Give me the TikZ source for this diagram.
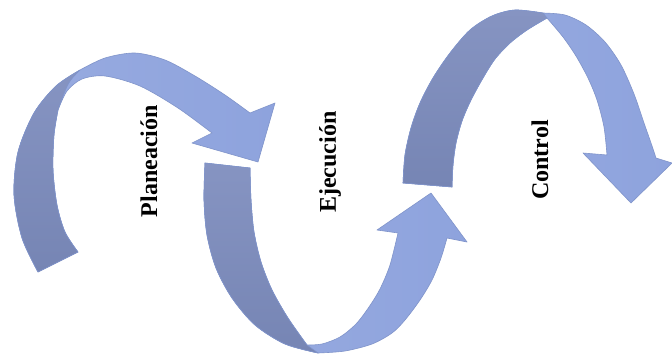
\documentclass[tikz,border=0pt]{standalone}
\usepackage{fontspec}
\setmainfont{Liberation Serif}
\begin{document}
\begin{tikzpicture}[x=1pt,y=-1pt,
  lightband/.style={shade, left color=lbA, right color=lbB, draw=edgeblue, line width=0.6pt, line join=round},
  darkband/.style={shade, top color=dbA, bottom color=dbB, draw=edgeblue, line width=0.6pt, line join=round},
  phase/.style={rotate=90, font=\bfseries\fontsize{24}{28}\selectfont, text=black, inner sep=0pt}]
\definecolor{lbA}{RGB}{152,171,224}
\definecolor{lbB}{RGB}{142,163,221}
\definecolor{dbA}{RGB}{134,148,194}
\definecolor{dbB}{RGB}{118,133,180}
\definecolor{edgeblue}{RGB}{128,148,202}
\useasboundingbox (0,0) rectangle (672,354);
\fill[white] (0,0) rectangle (672,354);

% --- first ribbon arrow (left) ---
\path[lightband]
  plot[smooth] coordinates {(38,272) (22,238) (14,195) (18,152) (34,113) (56,86) (80,70)}
  -- plot[smooth] coordinates {(80,70) (105,58) (135,53) (165,60) (195,76) (225,95) (250,113)}
  -- (275,103) -- (258,162) -- (192,143) -- (212,133)
  -- plot[smooth] coordinates {(212,133) (178,108) (140,86) (105,76) (82,79) (67,91) (58,110)}
  -- plot[smooth] coordinates {(58,110) (54,135) (53,170) (57,205) (65,232) (78,252)}
  -- cycle;
\path[darkband]
  plot[smooth] coordinates {(38,272) (22,238) (14,195) (18,152) (34,113) (56,86) (80,70)}
  .. controls (68,82) .. (58,110)
  -- plot[smooth] coordinates {(58,110) (54,135) (53,170) (57,205) (65,232) (78,252)}
  -- cycle;

% --- second ribbon arrow (middle) ---
\path[lightband]
  plot[smooth] coordinates {(205,163) (204,200) (207,235) (216,268) (232,298) (255,325) (285,344) (318,353)}
  -- plot[smooth] coordinates {(318,353) (345,351) (372,344) (392,333) (405,320) (420,300) (432,280) (441,258) (447,238)}
  -- (467,242) -- (431,193) -- (377,230) -- (398,233)
  -- plot[smooth] coordinates {(398,233) (390,265) (380,289) (369,307) (356,324) (340,337) (322,344) (307,345)}
  -- plot[smooth] coordinates {(307,345) (288,318) (272,290) (261,262) (254,232) (251,200) (250,168)}
  -- cycle;
\path[darkband]
  plot[smooth] coordinates {(205,163) (204,200) (207,235) (216,268) (232,298) (255,325) (285,344) (318,353)}
  -- (307,345)
  -- plot[smooth] coordinates {(307,345) (288,318) (272,290) (261,262) (254,232) (251,200) (250,168)}
  -- cycle;

% --- third ribbon arrow (right) ---
\path[lightband]
  plot[smooth] coordinates {(403,183) (405,155) (411,128) (420,103) (433,78) (450,53) (470,30) (492,16) (515,10) (543,13)}
  -- plot[smooth] coordinates {(543,13) (565,15) (586,25) (605,42) (621,65) (634,94) (644,123) (651,143) (656,158)}
  -- (672,163) -- (631,203) -- (583,153) -- (607,155)
  -- plot[smooth] coordinates {(607,155) (604,127) (597,100) (588,78) (576,56) (563,37) (547,18)}
  -- plot[smooth] coordinates {(547,18) (527,30) (510,43) (495,59) (483,78) (471,100) (462,121) (456,143) (453,165) (452,187)}
  -- cycle;
\path[darkband]
  plot[smooth] coordinates {(403,183) (405,155) (411,128) (420,103) (433,78) (450,53) (470,30) (492,16) (515,10) (543,13)}
  -- (547,18)
  -- plot[smooth] coordinates {(547,18) (527,30) (510,43) (495,59) (483,78) (471,100) (462,121) (456,143) (453,165) (452,187)}
  -- cycle;

% --- phase labels ---
\node[phase] (plan) at (149,161) {Planeación};
\node[phase] (ejec) at (330,162) {Ejecución};
\node[phase] (ctrl) at (540,160) {Control};
\end{tikzpicture}
\end{document}
